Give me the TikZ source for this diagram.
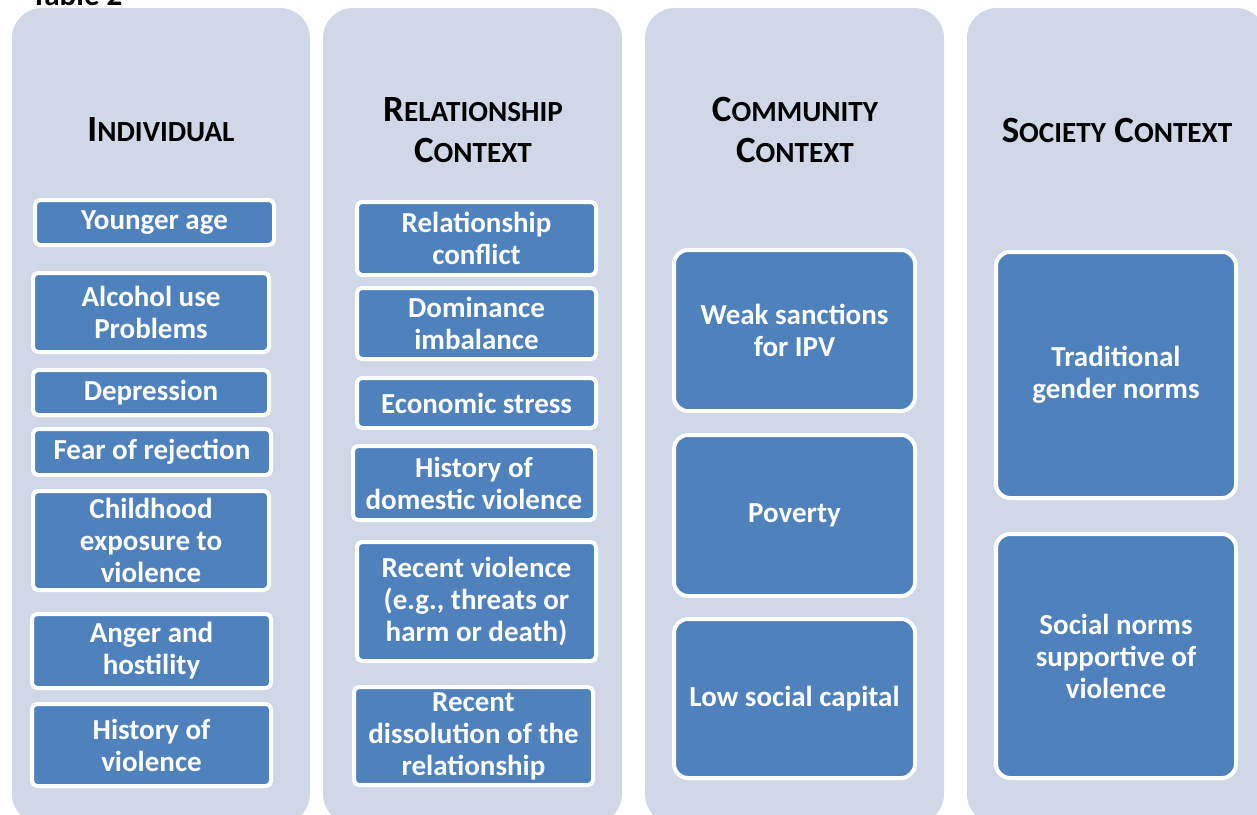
\documentclass[tikz,border=0pt]{standalone}
\usepackage{fontspec}
\setmainfont{Carlito}
\definecolor{colbg}{RGB}{208,216,232}
\definecolor{boxblue}{RGB}{79,129,189}
% small caps imitation for the column titles
\newcommand\hsc[1]{{\fontsize{14.6pt}{20.5pt}\selectfont #1}}
\begin{document}
\begin{tikzpicture}[x=0.5pt,y=-0.5pt,
  column/.style={fill=colbg,rounded corners=15pt},
  title/.style={font=\bfseries\fontsize{18.5pt}{20.5pt}\selectfont,text=black,align=center,inner sep=0pt},
  factor/.style n args={2}{draw=white,line width=2pt,fill=boxblue,text=white,
    font=\bfseries\fontsize{14.5pt}{16pt}\selectfont,align=center,inner sep=0pt,
    rounded corners=2.5pt,minimum width=#1,minimum height=#2},
  bigfactor/.style n args={2}{factor={#1}{#2},rounded corners=7pt}]
\useasboundingbox (0,0) rectangle (1257,814);
\clip (0,0) rectangle (1257,814);

% caption above the table
\node[anchor=base west,inner sep=0pt,font=\bfseries\fontsize{15.5pt}{18pt}\selectfont] (caption) at (31,5) {Table 2};

% four column panels
\fill[column] (12,8) rectangle (310,824);
\fill[column] (323,8) rectangle (622,824);
\fill[column] (645,8) rectangle (944,824);
\fill[column] (967,8) rectangle (1266,824);

% column titles
\node[title] (tInd) at (161,130) {I\hsc{NDIVIDUAL}};
\node[title] (tRel) at (473,130) {R\hsc{ELATIONSHIP}\\C\hsc{ONTEXT}};
\node[title] (tCom) at (795,130) {C\hsc{OMMUNITY}\\C\hsc{ONTEXT}};
\node[title] (tSoc) at (1117,130) {S\hsc{OCIETY} C\hsc{ONTEXT}};

% individual factors
\node[factor={119.5pt}{22.5pt}] (young) at (154.5,222.5) {Younger age};
\node[factor={118pt}{39.5pt}] (alcohol) at (151,312.5) {Alcohol use\\Problems};
\node[factor={118pt}{22.5pt}] (depr) at (151,392.5) {Depression};
\node[factor={119pt}{23pt}] (fear) at (152,452) {Fear of rejection};
\node[factor={118pt}{49.5pt}] (child) at (151,540.5) {Childhood\\exposure to\\violence};
\node[factor={119.5pt}{37pt}] (anger) at (151.5,651) {Anger and\\hostility};
\node[factor={119.5pt}{41pt}] (histv) at (151.5,745) {History of\\violence};

% relationship factors
\node[factor={119.5pt}{36.5pt}] (conflict) at (476.5,238.5) {Relationship\\conflict};
\node[factor={119.5pt}{35.5pt}] (domin) at (476.5,323.5) {Dominance\\imbalance};
\node[factor={119.5pt}{25pt}] (econ) at (476.5,403) {Economic stress};
\node[factor={121pt}{37pt}] (domest) at (474,483) {History of\\domestic violence};
\node[factor={119.5pt}{59.5pt}] (recent) at (476.5,601.5) {Recent violence\\(e.g., threats or\\harm or death)};
\node[factor={119.5pt}{49pt}] (dissol) at (473.5,736) {Recent\\dissolution of the\\relationship};

% community factors
\node[bigfactor={120.5pt}{80.5pt}] (weak) at (794.5,330.5) {Weak sanctions\\for IPV};
\node[bigfactor={120.5pt}{80.5pt}] (poverty) at (794.5,515.5) {Poverty};
\node[bigfactor={120.5pt}{79.5pt}] (capital) at (794.5,698.5) {Low social capital};

% society factors
\node[bigfactor={120pt}{123pt}] (gender) at (1116,375) {Traditional\\gender norms};
\node[bigfactor={120pt}{122pt}] (social) at (1116,656) {Social norms\\supportive of\\violence};
\end{tikzpicture}
\end{document}
